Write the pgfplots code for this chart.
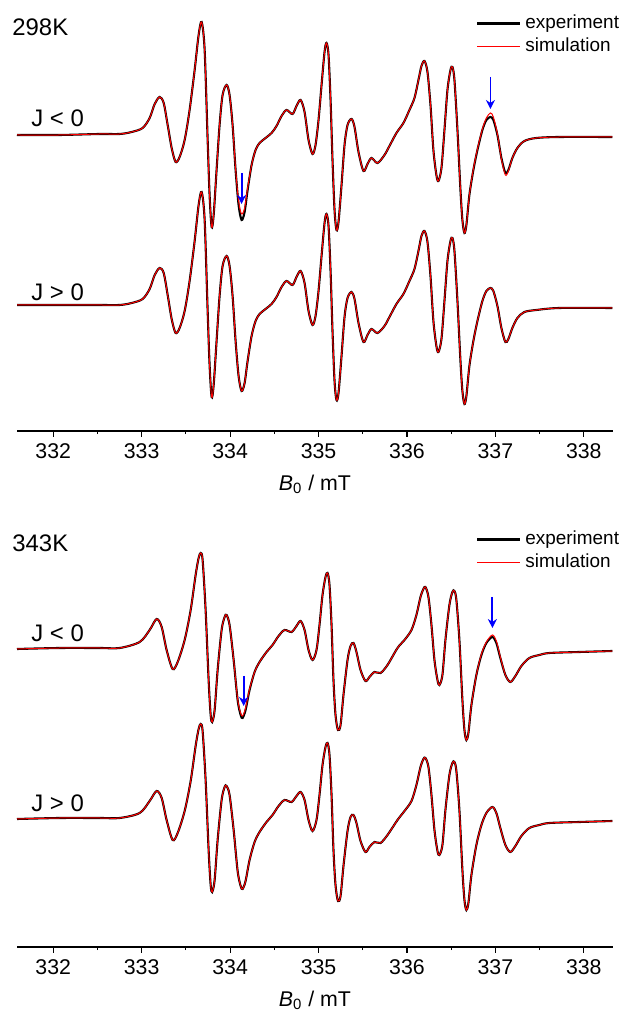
\documentclass[border=0pt]{standalone}
\usepackage{fontspec}
\setmainfont{Liberation Sans}
\usepackage{pgfplots}
\usepackage{pgfplotstable}
\pgfplotsset{compat=1.18}
\usetikzlibrary{arrows.meta}

% columns: B (mT), J<0 experiment, J<0 simulation, J>0 experiment, J>0 simulation
\pgfplotstableread{
x ae as be bs
331.590 1 1 2 2
332.073 1 1 2 2
332.525 2 2 2 2
332.751 2 2 2 2
332.887 4 4 4 4
333.011 8 8 8 8
333.090 18 18 18 18
333.147 32 32 32 32
333.203 39 39 39 39
333.249 33 33 34 34
333.294 11 11 12 12
333.339 -12 -12 -12 -12
333.384 -26 -26 -26 -26
333.429 -21 -21 -21 -21
333.486 -4 -4 -4 -4
333.542 26 26 26 26
333.599 66 66 66 66
333.644 101 101 102 102
333.678 114 114 115 115
333.712 86 86 87 87
333.746 -4 -4 -4 -4
333.768 -59 -59 -58 -58
333.791 -91 -91 -90 -90
333.814 -79 -79 -78 -78
333.847 -34 -34 -34 -34
333.881 11 11 11 11
333.915 41 41 41 41
333.960 51 51 51 51
333.994 41 41 41 41
334.028 11 11 11 11
334.062 -34 -33 -34 -34
334.096 -69 -65 -69 -69
334.130 -84 -78 -84 -84
334.164 -76 -72 -76 -76
334.198 -54 -52 -54 -54
334.243 -29 -29 -29 -29
334.288 -14 -14 -14 -14
334.333 -7 -7 -7 -7
334.401 -2 -2 -2 -2
334.469 3 3 3 3
334.525 10 10 10 10
334.582 20 20 20 20
334.638 26 26 26 26
334.706 22 22 22 22
334.751 30 30 30 30
334.797 36 36 36 36
334.842 24 24 24 24
334.887 -4 -4 -4 -4
334.932 -18 -18 -18 -18
334.966 -9 -9 -9 -9
335.000 16 16 16 16
335.034 51 51 51 51
335.068 84 84 84 84
335.090 93 93 93 93
335.113 81 81 81 81
335.136 36 36 36 36
335.158 -24 -24 -24 -24
335.181 -74 -74 -74 -74
335.203 -94 -94 -93 -93
335.226 -86 -86 -86 -86
335.260 -49 -49 -49 -49
335.294 -9 -9 -10 -10
335.328 11 11 9 9
335.373 17 17 15 15
335.407 9 9 8 8
335.452 -16 -16 -16 -16
335.508 -35 -35 -35 -35
335.554 -28 -28 -28 -28
335.599 -22 -22 -22 -22
335.667 -27 -27 -26 -26
335.746 -19 -19 -19 -19
335.802 -10 -10 -10 -10
335.881 3 3 3 3
335.960 13 13 13 13
336.028 26 26 26 26
336.085 38 38 38 38
336.130 56 56 56 56
336.164 70 70 71 71
336.198 75 75 76 76
336.232 64 64 65 65
336.266 31 31 31 31
336.299 -14 -14 -14 -14
336.333 -39 -39 -39 -39
336.356 -45 -45 -45 -45
336.390 -32 -32 -32 -32
336.424 6 6 6 6
336.458 46 46 46 46
336.492 66 66 66 66
336.514 69 69 69 69
336.537 56 56 56 56
336.571 6 6 6 6
336.605 -54 -54 -54 -54
336.627 -84 -84 -84 -84
336.650 -97 -97 -97 -97
336.672 -89 -89 -89 -89
336.706 -59 -59 -59 -59
336.751 -34 -33 -34 -34
336.797 -14 -13 -14 -14
336.853 6 7 6 6
336.898 16 18 16 16
336.944 19 23 19 19
336.977 16 19 16 16
337.023 1 2 1 1
337.068 -22 -23 -21 -21
337.113 -37 -39 -35 -35
337.147 -34 -35 -32 -32
337.192 -22 -22 -21 -21
337.249 -12 -12 -11 -11
337.328 -5 -5 -5 -5
337.463 -2 -2 -3 -3
337.723 -1 -1 -1 -1
338.322 -1 -1 -1 -1
}\tabA

\pgfplotstableread{
x ae as be bs
331.590 2 2 2 2
332.073 3 3 3 3
332.525 3 3 3 3
332.751 3 3 3 3
332.977 9 9 8 8
333.090 21 21 20 20
333.169 32 32 30 30
333.226 24 24 23 23
333.282 1 1 1 1
333.350 -18 -18 -19 -19
333.407 -11 -11 -12 -12
333.486 11 11 10 10
333.554 41 41 40 40
333.610 76 76 75 75
333.644 93 93 92 92
333.667 98 98 97 97
333.689 91 91 90 90
333.723 41 41 41 41
333.757 -29 -29 -29 -29
333.780 -64 -64 -64 -64
333.797 -71 -71 -71 -71
333.825 -59 -59 -59 -59
333.859 -19 -19 -19 -19
333.904 21 21 21 21
333.938 34 34 34 34
333.960 36 36 35 35
333.994 26 26 26 26
334.040 -9 -9 -9 -9
334.085 -49 -48 -50 -50
334.119 -64 -62 -65 -65
334.141 -67 -65 -68 -68
334.175 -59 -57 -60 -60
334.220 -39 -38 -39 -39
334.277 -21 -21 -21 -21
334.333 -11 -11 -11 -11
334.412 -1 -1 -1 -1
334.480 6 6 6 6
334.548 15 15 15 15
334.616 21 21 21 21
334.695 19 19 19 19
334.751 25 25 25 25
334.797 30 30 29 29
334.842 21 21 21 21
334.887 1 1 1 1
334.932 -9 -9 -10 -10
334.977 1 1 1 1
335.011 26 26 26 26
335.045 56 56 56 56
335.079 74 74 74 74
335.102 78 78 78 78
335.124 66 66 66 66
335.147 26 26 26 26
335.169 -29 -29 -29 -29
335.192 -64 -64 -64 -64
335.220 -79 -79 -80 -80
335.249 -74 -74 -75 -75
335.282 -44 -44 -45 -45
335.328 -9 -9 -10 -10
335.362 5 5 4 4
335.395 8 8 6 6
335.429 -1 -1 -2 -2
335.475 -19 -19 -20 -20
335.531 -30 -30 -31 -31
335.576 -26 -26 -26 -26
335.633 -21 -21 -21 -21
335.701 -22 -22 -22 -22
335.780 -14 -14 -14 -14
335.893 3 3 1 1
335.972 11 11 10 10
336.051 21 21 20 20
336.107 36 36 36 36
336.153 54 54 54 54
336.186 62 62 62 62
336.209 64 64 63 63
336.243 54 54 54 54
336.277 26 26 26 26
336.311 -9 -9 -9 -9
336.345 -29 -29 -30 -30
336.367 -34 -34 -34 -34
336.401 -24 -24 -24 -24
336.435 11 11 11 11
336.480 46 46 46 46
336.514 59 59 58 58
336.537 60 60 59 59
336.559 51 51 50 50
336.593 11 11 11 11
336.627 -49 -49 -49 -49
336.650 -79 -79 -79 -79
336.672 -89 -89 -89 -89
336.695 -82 -82 -82 -82
336.729 -54 -54 -54 -54
336.785 -24 -24 -24 -24
336.842 -4 -3 -4 -4
336.898 8 9 8 8
336.966 14 16 14 14
337.011 8 10 8 8
337.056 -7 -6 -7 -7
337.113 -24 -24 -24 -24
337.169 -31 -31 -31 -31
337.226 -25 -25 -25 -25
337.294 -15 -15 -15 -15
337.384 -7 -7 -7 -7
337.497 -4 -4 -4 -4
337.610 -2 -2 -2 -2
337.949 -1 -1 -1 -1
338.322 0 0 0 0
}\tabB

\tikzset{
  bluearrow/.style={blue, line width=0.9bp, -{Stealth[length=4.5bp,width=4.5bp]}},
}

\pgfplotsset{
  legend image code/.code={\draw[#1] (0bp,0bp) -- (21.5bp,0bp);},
  eprpanel/.style={
    width=298bp, height=215.5bp, scale only axis,
    xmin=331.59, xmax=338.33, ymin=0, ymax=431,
    axis x line*=bottom, hide y axis, clip=false,
    xtick={332,333,334,335,336,337,338},
    minor x tick num=1,
    tick align=outside,
    major tick length=3bp, minor tick length=1.6bp,
    tick style={black, line width=0.6bp},
    axis line style={black, line width=1bp},
    /pgf/number format/assume math mode=true,
    xticklabel style={font=\fontsize{10.7}{12}\selectfont},
    xlabel={\textit{B}\textsubscript{0} / mT},
    xlabel style={font=\fontsize{10.7}{12}\selectfont, yshift=-1bp},
    legend style={draw=none, fill=none, inner sep=0pt,
      at={(rel axis cs:0.770,0.975)}, anchor=north west,
      font=\fontsize{9.5}{11}\selectfont, row sep=-1bp,
      cells={anchor=west}},
  },
}

\begin{document}
\begin{tikzpicture}
\useasboundingbox (0,0) rectangle (318bp,510bp);

\begin{axis}[eprpanel, at={(8.5bp,294.5bp)}, anchor=south west]
\addplot[black, line width=1.05bp, smooth] table[x=x, y expr=\thisrow{ae}+295] {\tabA};
\addplot[red, line width=0.5bp, smooth] table[x=x, y expr=\thisrow{as}+295] {\tabA};
\addplot[black, line width=1.05bp, smooth, forget plot] table[x=x, y expr=\thisrow{be}+124] {\tabA};
\addplot[red, line width=0.5bp, smooth, forget plot] table[x=x, y expr=\thisrow{bs}+124] {\tabA};
\legend{experiment, simulation}
\draw[bluearrow] (axis cs:334.13,258) -- (axis cs:334.13,227);
\draw[bluearrow] (axis cs:336.944,354) -- (axis cs:336.944,322);
\end{axis}

\begin{axis}[eprpanel, at={(8.5bp,36.5bp)}, anchor=south west]
\addplot[black, line width=1.05bp, smooth] table[x=x, y expr=\thisrow{ae}+296] {\tabB};
\addplot[red, line width=0.5bp, smooth] table[x=x, y expr=\thisrow{as}+296] {\tabB};
\addplot[black, line width=1.05bp, smooth, forget plot] table[x=x, y expr=\thisrow{be}+126] {\tabB};
\addplot[red, line width=0.5bp, smooth, forget plot] table[x=x, y expr=\thisrow{bs}+126] {\tabB};
\legend{experiment, simulation}
\draw[bluearrow] (axis cs:334.153,271) -- (axis cs:334.153,241);
\draw[bluearrow] (axis cs:336.966,350) -- (axis cs:336.966,319);
\end{axis}

\begin{scope}[every node/.style={anchor=base west, inner sep=0pt, font=\fontsize{12}{14}\selectfont}]
\node at (6bp,492bp) {298K};
\node at (15.5bp,446.5bp) {J < 0};
\node at (15.5bp,359.5bp) {J > 0};
\node at (6bp,234bp) {343K};
\node at (15.5bp,189bp) {J < 0};
\node at (15.5bp,104bp) {J > 0};
\end{scope}
\end{tikzpicture}
\end{document}
